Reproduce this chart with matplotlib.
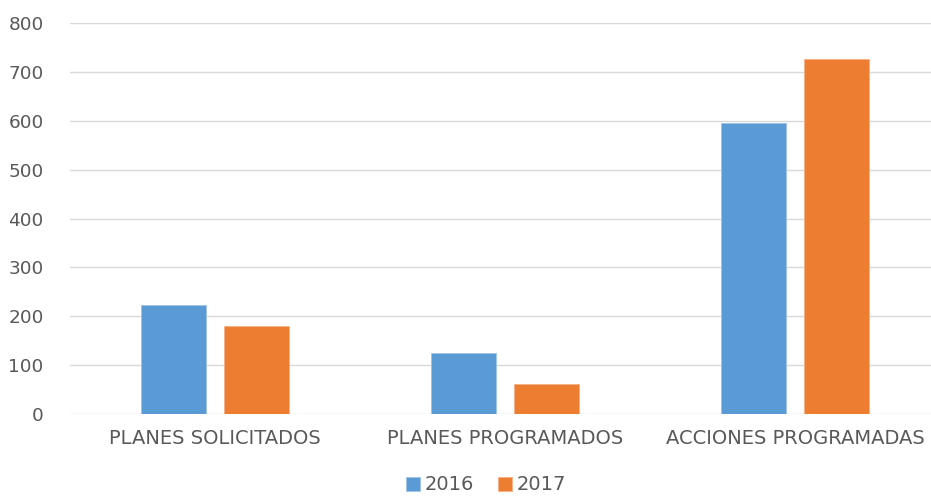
import matplotlib
matplotlib.use("Agg")
import matplotlib.pyplot as plt
import numpy as np

categories = ["PLANES SOLICITADOS", "PLANES PROGRAMADOS", "ACCIONES PROGRAMADAS"]
series_names = ["2016", "2017"]
values_2016 = [224, 125, 596]
values_2017 = [181, 62, 727]
yticks = [0, 100, 200, 300, 400, 500, 600, 700, 800]

plt.rcParams['font.family'] = ['DejaVu Sans']

fig = plt.figure(figsize=(9.31, 4.97), dpi=100)
ax = fig.add_axes([70/931, 83/497, 870/931, 391/497])

x = np.arange(len(categories))
w = 0.224
off = 0.142
ax.bar(x - off, values_2016, w, color="#5B9BD5", edgecolor="#9DC3E6", linewidth=0.6, label=series_names[0], zorder=3)
ax.bar(x + off, values_2017, w, color="#ED7D31", edgecolor="#F4B183", linewidth=0.6, label=series_names[1], zorder=3)

ax.set_xlim(-0.5, 2.5)
ax.set_ylim(0, 800)
ax.set_yticks(yticks)
ax.set_xticks(x)
ax.set_xticklabels(categories)
ax.yaxis.grid(True, color="#D9D9D9", linewidth=1.0, zorder=0)
for s in ax.spines.values():
    s.set_visible(False)
ax.tick_params(axis='both', length=0, colors="#595959")
ax.tick_params(axis='y', pad=19, labelsize=13.3)
ax.tick_params(axis='x', pad=11, labelsize=14)

leg = ax.legend(loc='center', bbox_to_anchor=(486/931, 12/497), bbox_transform=fig.transFigure,
                ncol=2, frameon=False, fontsize=14, handlelength=0.75, handleheight=0.75,
                columnspacing=1.2, handletextpad=0.25, labelcolor="#595959",
                borderpad=0.1)

fig.savefig("out.png", dpi=100)
